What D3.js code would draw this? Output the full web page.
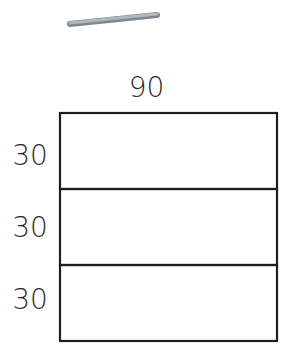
<!DOCTYPE html>
<html>
<head>
<meta charset="utf-8">
<script src="https://cdn.jsdelivr.net/npm/d3@7"></script>
<style>
  html, body { margin: 0; padding: 0; background: #fff; }
  svg { display: block; }
</style>
</head>
<body>
<script>
'use strict';
(function () {
  // strips of the sketch, top to bottom
  let stripValues = [30, 30, 30];
  let stripLabels = ["30", "30", "30"];
  let totalWidth = 90;
  let widthLabel = "90";

  let svg = d3.select('body')
    .append('svg')
    .attr('width', 287)
    .attr('height', 350);

  let total = d3.sum(stripValues);
  let xScale = d3.scaleLinear().domain([0, totalWidth]).range([60, 277]);
  let yScale = d3.scaleLinear().domain([0, total]).range([113, 341]);

  // cumulative starts of each strip
  let starts = [];
  let acc = 0;
  stripValues.forEach((v) => { starts.push(acc); acc += v; });

  // pencil-like grey stroke at the top
  svg.append('line')
    .attr('x1', 70).attr('y1', 24)
    .attr('x2', 157).attr('y2', 15)
    .attr('stroke', '#7d888e')
    .attr('stroke-width', 6)
    .attr('stroke-linecap', 'round');
  svg.append('line')
    .attr('x1', 70).attr('y1', 23)
    .attr('x2', 157).attr('y2', 14)
    .attr('stroke', '#aeb8bd')
    .attr('stroke-width', 3)
    .attr('stroke-linecap', 'round');

  // strips
  svg.selectAll('rect.strip')
    .data(stripValues)
    .enter()
    .append('rect')
    .attr('class', 'strip')
    .attr('x', xScale(0))
    .attr('y', (d, i) => yScale(starts[i]))
    .attr('width', xScale(totalWidth) - xScale(0))
    .attr('height', (d) => yScale(d) - yScale(0))
    .attr('fill', 'none')
    .attr('stroke', '#1e1e1e')
    .attr('stroke-width', 2.2);

  // left labels
  svg.selectAll('text.side')
    .data(stripLabels)
    .enter()
    .append('text')
    .attr('class', 'side')
    .attr('x', 30)
    .attr('y', (d, i) => yScale(starts[i] + stripValues[i] / 2) + 4 - i * 4)
    .attr('text-anchor', 'middle')
    .attr('dominant-baseline', 'central')
    .style('font-family', 'DejaVu Sans, sans-serif')
    .style('font-weight', '200')
    .style('font-size', '28px')
    .style('fill', '#2a2a2a')
    .text((d) => d);

  // top label
  svg.append('text')
    .attr('x', xScale(totalWidth / 2) - 22)
    .attr('y', 87)
    .attr('text-anchor', 'middle')
    .attr('dominant-baseline', 'central')
    .style('font-family', 'DejaVu Sans, sans-serif')
    .style('font-weight', '200')
    .style('font-size', '28px')
    .style('fill', '#2a2a2a')
    .text(widthLabel);
})();
</script>
</body>
</html>
